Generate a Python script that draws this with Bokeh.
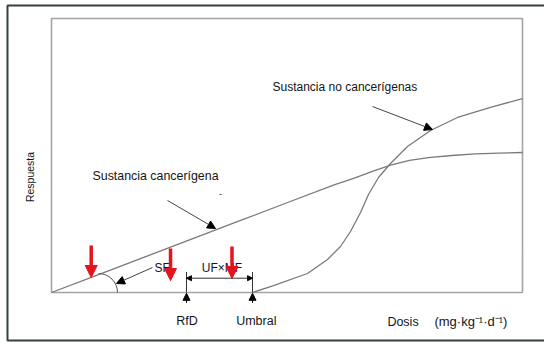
import math
from bokeh.plotting import figure
from bokeh.models import Range1d, ColumnDataSource, Arrow, NormalHead, Label
from bokeh.embed import file_html
from bokeh.resources import INLINE

# ---- data (dose 0-100, response 0-100, schematic) ----
dose_carc = [0, 10, 20, 30, 40, 50, 60, 64, 68, 72, 76, 80, 85, 90, 95, 100]
resp_carc = [0, 6.55, 13.1, 19.65, 26.2, 32.75, 39.3, 41.6, 44.1, 46.5, 48.2, 49.25, 50.0, 50.6, 50.9, 51.1]

dose_noncarc = [42.68, 47.13, 54.35, 58.6, 61.36, 63.48, 65.61, 67.3, 69.43, 71.97, 75.58, 80.47, 86.2, 93.21, 100]
resp_noncarc = [0, 2.55, 6.93, 12.04, 16.79, 22.26, 29.2, 35.77, 41.97, 47.08, 53.28, 59.12, 63.87, 67.52, 70.8]

tick_labels = ["RfD", "Umbral"]
tick_doses = [28.66, 42.68]

red_arrow_doses = [8.43, 25.27, 38.32]
red_arrow_tops = [17.15, 16.06, 16.79]
red_arrow_tips = [5.47, 4.38, 5.11]

FONT = "Liberation Sans"
TXT = "#151515"

p = figure(width=544, height=343, output_backend="svg", toolbar_location=None,
           x_range=Range1d(-10.828, 104.671), y_range=Range1d(-18.613, 106.569),
           min_border=0)
p.axis.visible = False
p.grid.visible = False
p.outline_line_color = None
p.background_fill_color = "white"
p.border_fill_color = "white"

# outer frame
p.quad(left=[-9.342], right=[106], bottom=[-17.52], top=[104.745],
       fill_color=None, line_color="#34403c", line_width=2)
# inner box
p.quad(left=[0], right=[100], bottom=[0], top=[100],
       fill_color=None, line_color="#a3a3a3", line_width=1.6)

# curves
p.line(dose_carc, resp_carc, line_color="#7a7a7a", line_width=1.3)
p.line(dose_noncarc, resp_noncarc, line_color="#7a7a7a", line_width=1.3)

# SF arc
p.arc(x=[9.98], y=[0], radius=19, radius_units="screen", start_angle=0,
      end_angle=math.pi / 2, line_color="#555555", line_width=1)

# annotation arrows (black heads)
ann = ColumnDataSource(dict(x0=[68.15, 24.63, 21.44], y0=[67.88, 33.58, 9.12],
                            x1=[80.89, 34.82, 13.8], y1=[59.49, 23.36, 3.28]))
p.add_layout(Arrow(end=NormalHead(size=8, fill_color="black", line_color="black"),
                   x_start="x0", y_start="y0", x_end="x1", y_end="y1", source=ann,
                   line_color="#444444", line_width=1))

# arrows under axis at RfD and Umbral
up = ColumnDataSource(dict(x0=tick_doses, y0=[-3.8, -3.8], x1=tick_doses, y1=[-0.3, -0.3]))
p.add_layout(Arrow(end=NormalHead(size=7, fill_color="black", line_color="black"),
                   x_start="x0", y_start="y0", x_end="x1", y_end="y1", source=up,
                   line_color="black", line_width=1))

# dimension bars and double arrow
p.segment(x0=tick_doses, y0=[0, 0], x1=tick_doses, y1=[7.5, 7.5],
          line_color="#333333", line_width=1)
dim = ColumnDataSource(dict(x0=[tick_doses[0]], y0=[5.22], x1=[tick_doses[1]], y1=[5.22]))
p.add_layout(Arrow(start=NormalHead(size=5, fill_color="black", line_color="black"),
                   end=NormalHead(size=5, fill_color="black", line_color="black"),
                   x_start="x0", y_start="y0", x_end="x1", y_end="y1", source=dim,
                   line_color="#333333", line_width=1))

# texts
def lab(x, y, t, size="12px", align="left", baseline="middle", angle=0):
    p.add_layout(Label(x=x, y=y, text=t, text_font=FONT, text_font_size=size,
                       text_color=TXT, text_align=align, text_baseline=baseline,
                       angle=angle))

lab(46.92, 75.0, "Sustancia no cancerígenas", size="12px")
lab(8.7, 42.7, "Sustancia cancerígena", size="12.4px")
lab(35.9, 36.1, "-", size="9px", align="center")
lab(21.87, 9.12, "SF")
lab(36.2, 8.76, "UF×MF", align="center")
lab(tick_doses[0] + 0.1, -10.3, tick_labels[0], size="12.5px", align="center")
lab(tick_doses[1] + 0.8, -10.3, tick_labels[1], size="12.5px", align="center")
lab(74.63, -10.8, "Dosis", size="12.5px", align="center")
lab(81.3, -10.6, "(mg·kg⁻¹·d⁻¹)", size="13px")
lab(-4.46, 42.15, "Respuesta", size="10.5px", align="center", angle=math.pi / 2)

# red arrows (drawn last, on top)
red = ColumnDataSource(dict(x0=red_arrow_doses, y0=red_arrow_tops,
                            x1=red_arrow_doses, y1=red_arrow_tips))
p.add_layout(Arrow(end=NormalHead(size=12, fill_color="#e5141c", line_color="#e5141c"),
                   x_start="x0", y_start="y0", x_end="x1", y_end="y1", source=red,
                   line_color="#e5141c", line_width=3.5))

open("out.html", "w").write(file_html(p, INLINE))
